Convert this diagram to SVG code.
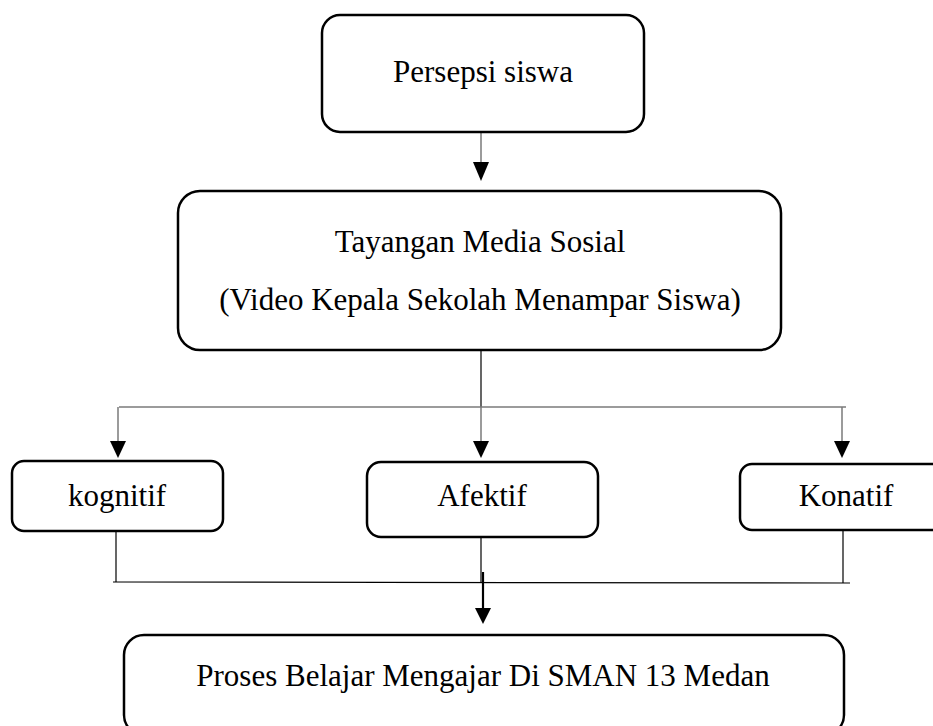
<svg xmlns="http://www.w3.org/2000/svg" width="933" height="726" viewBox="0 0 933 726">
<style>
.box{fill:#fff;stroke:#000;stroke-width:2.5}
.t{font-family:"Liberation Serif","Times New Roman",serif;font-size:31px;fill:#000;text-anchor:middle}
.g{stroke:#7a7a7a;stroke-width:1.5;fill:none}
.k{stroke:#000;stroke-width:1.2;fill:none}
.ah{fill:#000}
</style>
<rect width="933" height="726" fill="#fff"/>
<g id="connectors">
<line class="g" x1="481" y1="132" x2="481" y2="163"/>
<polygon class="ah" points="473,162 489,162 481,181"/>
<line class="k" x1="481" y1="350" x2="481" y2="407"/>
<line class="g" x1="119" y1="407" x2="846" y2="407"/>
<line class="g" x1="118" y1="407" x2="118" y2="442"/>
<polygon class="ah" points="110,441 126,441 118,458"/>
<line class="g" x1="481" y1="407" x2="481" y2="442"/>
<polygon class="ah" points="473,441 489,441 481,458"/>
<line class="g" x1="842" y1="407" x2="842" y2="442"/>
<polygon class="ah" points="834,441 850,441 842,458"/>
<line class="k" x1="116" y1="530" x2="116" y2="582"/>
<line class="k" x1="481" y1="537" x2="481" y2="582"/>
<line class="k" x1="843" y1="530" x2="843" y2="583"/>
<line class="k" x1="113" y1="582" x2="850" y2="583"/>
<line x1="483" y1="572" x2="483" y2="610" stroke="#000" stroke-width="2.2"/>
<polygon class="ah" points="475,608 491,608 483,624"/>
</g>
<g id="persepsi">
<rect class="box" x="322" y="15" width="322" height="117" rx="18"/>
<text class="t" x="483" y="82">Persepsi siswa</text>
</g>
<g id="tayangan">
<rect class="box" x="178" y="191" width="603" height="159" rx="22"/>
<text class="t" x="480" y="252">Tayangan Media Sosial</text>
<text class="t" x="480" y="310">(Video Kepala Sekolah Menampar Siswa)</text>
</g>
<g id="kognitif">
<rect class="box" x="12" y="461" width="211" height="70" rx="12"/>
<text class="t" x="117" y="506">kognitif</text>
</g>
<g id="afektif">
<rect class="box" x="367" y="462" width="231" height="75" rx="14"/>
<text class="t" x="482" y="506">Afektif</text>
</g>
<g id="konatif">
<rect class="box" x="740" y="464" width="210" height="66" rx="12"/>
<text class="t" x="846" y="506">Konatif</text>
</g>
<g id="proses">
<rect class="box" x="124" y="635" width="720" height="100" rx="20"/>
<text class="t" x="483" y="686">Proses Belajar Mengajar Di SMAN 13 Medan</text>
</g>
</svg>
